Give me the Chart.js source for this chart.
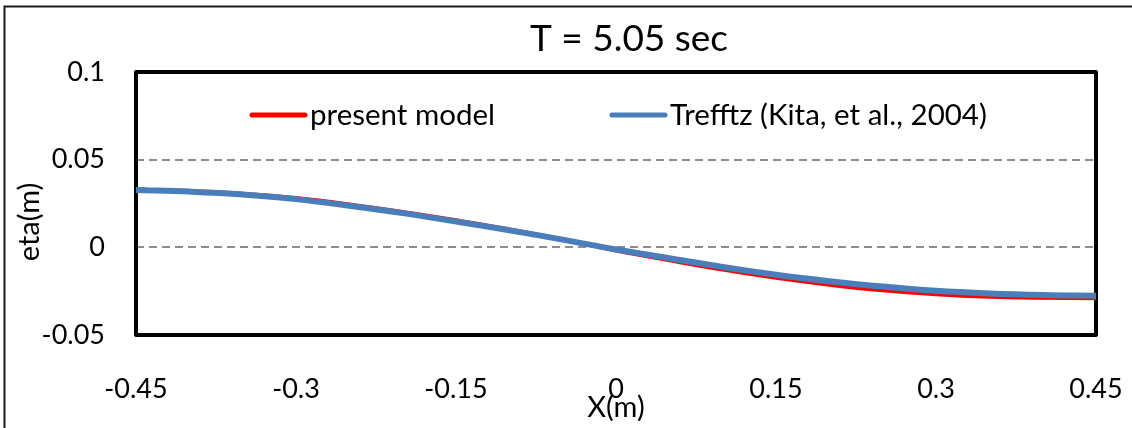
<!DOCTYPE html>
<html>
<head>
<meta charset="utf-8">
<script src="https://cdn.jsdelivr.net/npm/chart.js@4.4.1/dist/chart.umd.min.js"></script>
<style>
  html, body { margin: 0; padding: 0; background: #ffffff; }
  #wrap { width: 1132px; height: 428px; position: relative; }
  canvas { display: block; }
</style>
</head>
<body>
<div id="wrap"><canvas id="c" width="1132" height="428"></canvas></div>
<script>
// ---- data ----
const xValues = [-0.45, -0.40, -0.35, -0.30, -0.25, -0.20, -0.15, -0.10, -0.05, 0.00,
                 0.05, 0.10, 0.15, 0.20, 0.25, 0.30, 0.35, 0.40, 0.45];
const presentModel = [0.0330, 0.0321, 0.0306, 0.0281, 0.0245, 0.0202, 0.0155, 0.0102, 0.0046, -0.0018,
                      -0.0074, -0.0127, -0.0174, -0.0213, -0.0245, -0.0268, -0.0282, -0.0288, -0.0290];
const trefftz = [0.0327, 0.0318, 0.0302, 0.0275, 0.0237, 0.0195, 0.0147, 0.0097, 0.0044, -0.0012,
                 -0.0062, -0.0112, -0.0156, -0.0193, -0.0224, -0.0248, -0.0263, -0.0272, -0.0276];
const xTicks = [-0.45, -0.3, -0.15, 0, 0.15, 0.3, 0.45];
const yTicks = [-0.05, 0, 0.05, 0.1];
const seriesNames = ['present model', 'Trefftz (Kita, et al., 2004)'];
const titleText = 'T = 5.05 sec';
const xTitle = 'X(m)';
const yTitle = 'eta(m)';

const FONT = 'Lato, "Open Sans", sans-serif';

function pts(xs, ys) { return xs.map((x, i) => ({ x: x, y: ys[i] })); }
function fmt(v) { return String(Number(v.toFixed(2))); }

const framePlugin = {
  id: 'frame',
  beforeDraw(chart) {
    const ctx = chart.ctx;
    ctx.save();
    ctx.fillStyle = '#ffffff';
    ctx.fillRect(0, 0, chart.width, chart.height);
    ctx.strokeStyle = '#1a1a1a';
    ctx.lineWidth = 2;
    ctx.beginPath();
    ctx.moveTo(4.5, chart.height);
    ctx.lineTo(4.5, 6.5);
    ctx.lineTo(chart.width, 6.5);
    ctx.stroke();
    ctx.restore();
  },
  beforeDatasetsDraw(chart) {
    const a = chart.chartArea, ctx = chart.ctx;
    ctx.save();
    ctx.strokeStyle = '#000000';
    ctx.lineWidth = 4;
    ctx.lineJoin = 'round';
    ctx.strokeRect(a.left, a.top, a.right - a.left, a.bottom - a.top);
    ctx.restore();
  },
  afterDraw(chart) {
    const ctx = chart.ctx;
    const a = chart.chartArea;
    ctx.save();
    ctx.fillStyle = '#000000';
    // chart title
    ctx.font = '37px ' + FONT;
    ctx.textAlign = 'center';
    ctx.textBaseline = 'middle';
    ctx.fillText(titleText, 629, 39);
    // axis titles
    ctx.font = '29px ' + FONT;
    ctx.fillText(xTitle, (a.left + a.right) / 2, 408);
    ctx.translate(30, 222);
    ctx.rotate(-Math.PI / 2);
    ctx.fillText(yTitle, 0, 0);
    ctx.restore();
    // legend inside plot area
    ctx.save();
    ctx.font = '29.5px ' + FONT;
    ctx.textAlign = 'left';
    ctx.textBaseline = 'middle';
    const legendX = [250, 610];
    const ly = 115;
    chart.data.datasets.forEach((ds, i) => {
      const x0 = legendX[i];
      ctx.strokeStyle = ds.borderColor;
      ctx.lineWidth = 5;
      ctx.lineCap = 'round';
      ctx.beginPath();
      ctx.moveTo(x0 + 2, ly);
      ctx.lineTo(x0 + 55, ly);
      ctx.stroke();
      ctx.fillStyle = '#000000';
      ctx.fillText(ds.label, x0 + 60, ly);
    });
    ctx.restore();
  }
};

new Chart(document.getElementById('c'), {
  type: 'line',
  data: {
    datasets: [
      { label: seriesNames[0], data: pts(xValues, presentModel), borderColor: '#FF0000',
        borderWidth: 4, pointRadius: 0, tension: 0.4, order: 1, borderCapStyle: 'round' },
      { label: seriesNames[1], data: pts(xValues, trefftz), borderColor: '#4A7EBB',
        borderWidth: 6, pointRadius: 0, tension: 0.4, order: 0, borderCapStyle: 'round' }
    ]
  },
  options: {
    responsive: false,
    devicePixelRatio: 1,
    animation: false,
    layout: { padding: { left: 0, right: 36, top: 72, bottom: 0 } },
    plugins: {
      legend: { display: false },
      tooltip: { enabled: false },
      title: { display: false }
    },
    scales: {
      x: {
        type: 'linear',
        min: -0.45, max: 0.45,
        afterBuildTicks(axis) { axis.ticks = xTicks.map(v => ({ value: v })); },
        afterFit(axis) { axis.height = 93; axis.paddingLeft = 0; axis.paddingRight = 0; },
        grid: { display: false, drawTicks: false },
        border: { display: false },
        ticks: {
          color: '#000000',
          padding: 38,
          maxRotation: 0,
          autoSkip: false,
          font: { family: FONT, size: 27 },
          callback: v => fmt(v)
        }
      },
      y: {
        type: 'linear',
        min: -0.05, max: 0.1,
        afterBuildTicks(axis) { axis.ticks = yTicks.map(v => ({ value: v })); },
        afterFit(axis) { axis.width = 136; axis.paddingTop = 0; axis.paddingBottom = 0; },
        grid: {
          drawTicks: false,
          color: ctx => (ctx.tick && (ctx.tick.value === 0 || ctx.tick.value === 0.05)) ? '#8c8c8c' : 'rgba(0,0,0,0)',
          lineWidth: 2
        },
        border: { display: false, dash: [8, 5] },
        ticks: {
          color: '#000000',
          padding: 31,
          autoSkip: false,
          font: { family: FONT, size: 27 },
          callback: v => fmt(v)
        }
      }
    }
  },
  plugins: [framePlugin]
});
</script>
</body>
</html>
